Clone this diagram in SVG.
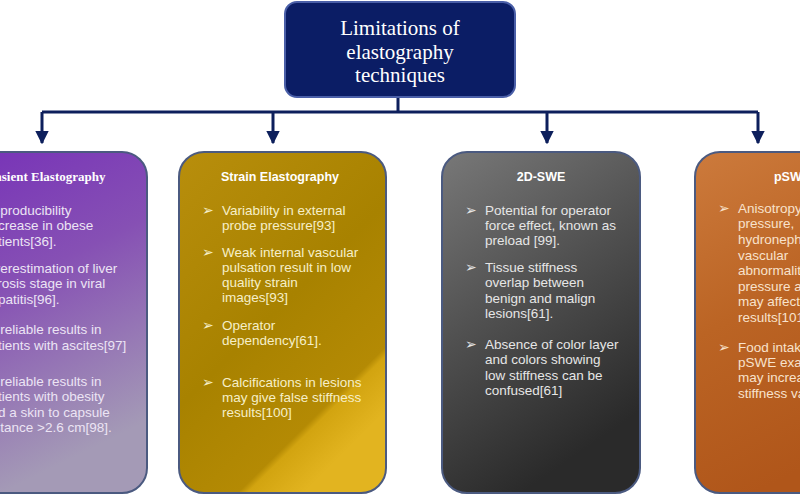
<svg xmlns="http://www.w3.org/2000/svg" width="800" height="500" viewBox="0 0 800 500">
<defs>
<linearGradient id="gPurple" x1="0" y1="0" x2="0.3" y2="1">
<stop offset="0" stop-color="#7630b8"/>
<stop offset="0.45" stop-color="#8650b4"/>
<stop offset="1" stop-color="#a49ab6"/>
</linearGradient>
<linearGradient id="gGold" x1="0" y1="0" x2="0.6" y2="1">
<stop offset="0" stop-color="#b88e0c"/>
<stop offset="0.55" stop-color="#a88200"/>
<stop offset="0.86" stop-color="#b48a04"/>
<stop offset="0.88" stop-color="#d2a410"/>
<stop offset="1" stop-color="#e2b420"/>
</linearGradient>
<linearGradient id="gGray" x1="0" y1="0" x2="0.4" y2="1">
<stop offset="0" stop-color="#787878"/>
<stop offset="0.5" stop-color="#505050"/>
<stop offset="1" stop-color="#2a2a2a"/>
</linearGradient>
<linearGradient id="gOrange" x1="0" y1="0" x2="0.3" y2="1">
<stop offset="0" stop-color="#cc7a3c"/>
<stop offset="0.5" stop-color="#bb6424"/>
<stop offset="1" stop-color="#b0561a"/>
</linearGradient>
<marker id="arr" viewBox="0 0 10 10" refX="9" refY="5" markerWidth="4.5" markerHeight="4.5" orient="auto" markerUnits="strokeWidth">
<path d="M0,0 L10,5 L0,10 z" fill="#0d1f5c"/>
</marker>
</defs>
<style>
.box{stroke:#4b5a80;stroke-width:2}
.ttl{font-family:"Liberation Sans",Arial,sans-serif;font-weight:bold;font-size:12.5px;fill:#ffffff;text-anchor:middle}
.txt{font-family:"Liberation Sans",Arial,sans-serif;font-size:13.5px}
.bul{font-family:"DejaVu Sans",sans-serif;font-size:14px}
.p{fill:#ece4f4}
.g{fill:#f6efc8}
.k{fill:#e6e6e6}
.o{fill:#f8e2cc}
.conn{stroke:#0d1f5c;stroke-width:3;fill:none}
.top{font-family:"Liberation Serif","Times New Roman",serif;font-size:21px;fill:#ffffff;text-anchor:middle}
</style>
<rect width="800" height="500" fill="#ffffff"/>

<g id="connectors">
<path class="conn" d="M398,96 V112"/>
<path class="conn" d="M42,112 H758"/>
<path class="conn" d="M42,112 V143" marker-end="url(#arr)"/>
<path class="conn" d="M273,112 V143" marker-end="url(#arr)"/>
<path class="conn" d="M547,112 V143" marker-end="url(#arr)"/>
<path class="conn" d="M758,112 V143" marker-end="url(#arr)"/>
</g>

<g id="root">
<rect x="285" y="2" width="230" height="95" rx="12" fill="#0b1d65" stroke="#4a5fa8" stroke-width="2"/>
<text class="top" x="400" y="35">Limitations of</text>
<text class="top" x="400" y="59">elastography</text>
<text class="top" x="400" y="82">techniques</text>
</g>

<g id="transient">
<rect class="box" x="-60" y="152" width="207" height="341" rx="25" fill="url(#gPurple)"/>
<text class="ttl" x="40" y="181" style="font-family:'Liberation Serif',serif;font-size:13px">Transient Elastography</text>
<g class="txt p">
<text class="bul" x="-36" y="215">➢</text>
<text x="-17" y="215">Reproducibility</text>
<text x="-17" y="230">decrease in obese</text>
<text x="-17" y="246">patients[36].</text>
<text class="bul" x="-36" y="273">➢</text>
<text x="-17" y="273">Overestimation of liver</text>
<text x="-17" y="288">fibrosis stage in viral</text>
<text x="-17" y="304">hepatitis[96].</text>
<text class="bul" x="-36" y="334">➢</text>
<text x="-17" y="334">Unreliable results in</text>
<text x="-17" y="350">patients with ascites[97]</text>
<text class="bul" x="-36" y="386">➢</text>
<text x="-17" y="386">Unreliable results in</text>
<text x="-17" y="401">patients with obesity</text>
<text x="-17" y="417">and a skin to capsule</text>
<text x="-17" y="432">distance &gt;2.6 cm[98].</text>
</g>
</g>

<g id="strain">
<rect class="box" x="179" y="152" width="207" height="341" rx="25" fill="url(#gGold)"/>
<text class="ttl" x="280" y="181">Strain Elastography</text>
<g class="txt g">
<text class="bul" x="202" y="215">➢</text>
<text x="222" y="215">Variability in external</text>
<text x="222" y="230">probe pressure[93]</text>
<text class="bul" x="202" y="257">➢</text>
<text x="222" y="257">Weak internal vascular</text>
<text x="222" y="272">pulsation result in low</text>
<text x="222" y="287">quality strain</text>
<text x="222" y="302">images[93]</text>
<text class="bul" x="202" y="330">➢</text>
<text x="222" y="330">Operator</text>
<text x="222" y="345">dependency[61].</text>
<text class="bul" x="202" y="387">➢</text>
<text x="222" y="387">Calcifications in lesions</text>
<text x="222" y="402">may give false stiffness</text>
<text x="222" y="417">results[100]</text>
</g>
</g>

<g id="swe2d">
<rect class="box" x="442" y="152" width="198" height="341" rx="25" fill="url(#gGray)"/>
<text class="ttl" x="541" y="181">2D-SWE</text>
<g class="txt k">
<text class="bul" x="465" y="215">➢</text>
<text x="485" y="215">Potential for operator</text>
<text x="485" y="230">force effect, known as</text>
<text x="485" y="245">preload [99].</text>
<text class="bul" x="465" y="272">➢</text>
<text x="485" y="272">Tissue stiffness</text>
<text x="485" y="287">overlap between</text>
<text x="485" y="303">benign and malign</text>
<text x="485" y="318">lesions[61].</text>
<text class="bul" x="465" y="349">➢</text>
<text x="485" y="349">Absence of color layer</text>
<text x="485" y="364">and colors showing</text>
<text x="485" y="380">low stiffness can be</text>
<text x="485" y="395">confused[61]</text>
</g>
</g>

<g id="pswe">
<rect class="box" x="695" y="152" width="200" height="341" rx="25" fill="url(#gOrange)"/>
<text class="ttl" x="792" y="181">pSWE</text>
<g class="txt o">
<text class="bul" x="718" y="213">➢</text>
<text x="738" y="213">Anisotropy, urinary</text>
<text x="738" y="228">pressure,</text>
<text x="738" y="244">hydronephrosis,</text>
<text x="738" y="260">vascular</text>
<text x="738" y="275">abnormalities,</text>
<text x="738" y="291">pressure and depth</text>
<text x="738" y="306">may affect the</text>
<text x="738" y="322">results[101]</text>
<text class="bul" x="718" y="352">➢</text>
<text x="738" y="352">Food intake before</text>
<text x="738" y="367">pSWE examination</text>
<text x="738" y="382">may increase the</text>
<text x="738" y="398">stiffness values</text>
</g>
</g>
</svg>
